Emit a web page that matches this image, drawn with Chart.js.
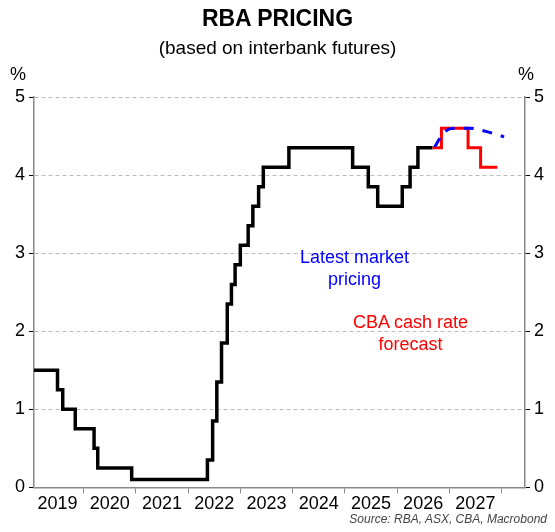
<!DOCTYPE html>
<html><head><meta charset="utf-8">
<script src="https://cdn.jsdelivr.net/npm/chart.js@4"></script>
<style>
body{margin:0;background:#fff;font-family:"Liberation Sans",Arial,sans-serif}
#w{position:relative;width:555px;height:532px}
.t{position:absolute;white-space:nowrap;text-align:center}
</style></head><body>
<div id="w">
<canvas id="c" width="555" height="532"></canvas>
<div class="t" style="left:0;width:555px;top:5px;font-size:23px;font-weight:bold">RBA PRICING</div>
<div class="t" style="left:0;width:555px;top:37px;font-size:19px">(based on interbank futures)</div>
<div class="t" style="left:10px;top:64px;font-size:18px">%</div>
<div class="t" style="left:518px;top:64px;font-size:18px">%</div>
<div class="t" style="left:300px;top:246px;font-size:18px;color:#0000ff;line-height:22px">Latest market<br>pricing</div>
<div class="t" style="left:353px;top:311px;font-size:18px;color:#ff0000;line-height:22px">CBA cash rate<br>forecast</div>
<div class="t" style="right:8px;top:512px;font-size:12px;font-style:italic;color:#444">Source: RBA, ASX, CBA, Macrobond</div>
</div>
<script>
const histX=[2019.0,2019.5,2019.6,2019.84,2020.2,2020.27,2020.92,2022.37,2022.47,2022.55,2022.64,2022.75,2022.83,2022.9,2023.0,2023.15,2023.24,2023.35,2023.44,2023.93,2025.15,2025.45,2025.63,2026.1,2026.25,2026.4,2026.68];
const histY=[1.5,1.25,1.0,0.75,0.5,0.25,0.1,0.35,0.85,1.35,1.85,2.35,2.6,2.85,3.1,3.35,3.6,3.85,4.1,4.35,4.1,3.85,3.6,3.85,4.1,4.35,4.35];
const cbaX=[2026.68,2026.85,2027.36,2027.6,2027.92];
const cbaY=[4.35,4.6,4.35,4.1,4.1];
const mktX=[2026.72,2026.85,2026.97,2027.1,2027.4,2027.7,2028.05];
const mktY=[4.36,4.5,4.58,4.6,4.6,4.56,4.49];
const yearLabels=['2019','2020','2021','2022','2023','2024','2025','2026','2027'];
const pts=(xs,ys)=>xs.map((x,i)=>({x,y:ys[i]}));
const f={family:'"Liberation Sans",Arial,sans-serif',size:18};
new Chart(document.getElementById('c'),{
type:'line',
data:{datasets:[
{data:pts(mktX,mktY),borderColor:'#0000ff',borderWidth:3,borderDash:[10,9],pointRadius:0,tension:0.4,cubicInterpolationMode:'monotone'},
{data:pts(cbaX,cbaY),borderColor:'#ff0000',borderWidth:3,pointRadius:0,stepped:'before'},
{data:pts(histX,histY),borderColor:'#000',borderWidth:3.5,pointRadius:0,stepped:'before'}
]},
options:{responsive:false,animation:false,
layout:{padding:{left:0,right:0,top:97,bottom:17}},
plugins:{legend:{display:false},tooltip:{enabled:false}},
scales:{
x:{type:'linear',min:2019.05,max:2028.45,
 afterBuildTicks:a=>{const t=[];for(let v=2019.5;v<=2028;v+=0.5)t.push({value:v});a.ticks=t;},
 ticks:{autoSkip:false,maxRotation:0,color:'#000',font:f,padding:0,
  callback:(v)=>{const i=v-2019.5;return (Number.isInteger(i)&&i>=0&&i<yearLabels.length)?yearLabels[i]:'';}},
 grid:{drawOnChartArea:false,tickLength:6,color:(c)=>{const v=c.tick&&c.tick.value;return Number.isInteger(v)?'#888':'rgba(0,0,0,0)';}},
 border:{color:'#888',width:1.5}},
y:{min:0,max:5,position:'left',afterFit:s=>{s.width=34;},
 ticks:{stepSize:1,color:'#000',font:f,padding:4},
 grid:{color:(c)=>c.tick.value===0?'rgba(0,0,0,0)':'#bbb',tickColor:'#000',tickLength:5,drawTicks:true},
 border:{color:'#888',width:1.5,dash:[4,3]} },
y2:{min:0,max:5,position:'right',afterFit:s=>{s.width=30;},
 ticks:{stepSize:1,color:'#000',font:f,padding:4},
 grid:{drawOnChartArea:false,tickColor:'#000',tickLength:5},
 border:{color:'#888',width:1.5}}
}}
});
</script>
</body></html>
